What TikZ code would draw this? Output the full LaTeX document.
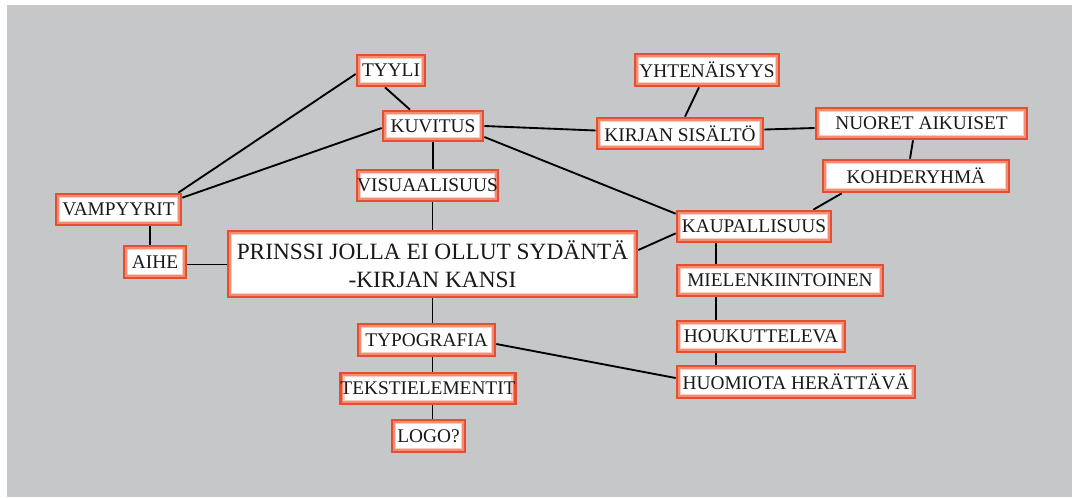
\documentclass[tikz,border=0pt]{standalone}
\usepackage{fontspec}
\setmainfont{Liberation Serif}
\usetikzlibrary{calc,backgrounds}
\definecolor{bggray}{RGB}{198,199,201}
\definecolor{bordred}{RGB}{230,78,48}
\definecolor{glowA}{RGB}{242,140,115}
\definecolor{glowB}{RGB}{251,205,193}
\tikzset{
  box/.style={rectangle, fill=white, draw=bordred, line width=2pt, inner sep=0pt,
    font=\fontsize{14.5}{17}\selectfont, text=black!90,
    path picture={
      \draw[glowB, line width=6.5pt] (path picture bounding box.south west) rectangle (path picture bounding box.north east);
      \draw[glowA, line width=4pt] (path picture bounding box.south west) rectangle (path picture bounding box.north east);
    }},
  bigbox/.style={box, font=\fontsize{17.5}{21}\selectfont, align=center},
  link/.style={line width=1.4pt, black}
}
\begin{document}
\begin{tikzpicture}[x=0.75pt, y=-0.75pt]
\useasboundingbox (0,0) rectangle (1072,497);
% nodes
\node[box, minimum width=68*0.75pt, minimum height=31*0.75pt] (tyyli) at (391,70.5) {TYYLI};
\node[box, minimum width=100*0.75pt, minimum height=30*0.75pt] (kuvitus) at (433,126) {KUVITUS};
\node[box, minimum width=139*0.75pt, minimum height=31*0.75pt] (visual) at (427.5,185.5) {VISUAALISUUS};
\node[box, minimum width=144*0.75pt, minimum height=32*0.75pt] (yht) at (707,70) {YHTENÄISYYS};
\node[box, minimum width=166*0.75pt, minimum height=31*0.75pt] (kirjan) at (680,133.5) {KIRJAN SISÄLTÖ};
\node[box, minimum width=211*0.75pt, minimum height=31*0.75pt] (nuoret) at (921.5,123.5) {NUORET AIKUISET};
\node[box, minimum width=186*0.75pt, minimum height=32*0.75pt] (kohde) at (916,176) {KOHDERYHMÄ};
\node[box, minimum width=125*0.75pt, minimum height=31*0.75pt] (vamp) at (118.5,209.5) {VAMPYYRIT};
\node[box, minimum width=62*0.75pt, minimum height=32*0.75pt] (aihe) at (155,262) {AIHE};
\node[bigbox, minimum width=409*0.75pt, minimum height=66*0.75pt] (main) at (432.5,264) {PRINSSI JOLLA EI OLLUT SYDÄNTÄ\\-KIRJAN KANSI};
\node[box, minimum width=154*0.75pt, minimum height=31*0.75pt] (kaup) at (754,226.5) {KAUPALLISUUS};
\node[box, minimum width=206*0.75pt, minimum height=31*0.75pt] (miel) at (780,280.5) {MIELENKIINTOINEN};
\node[box, minimum width=168*0.75pt, minimum height=31*0.75pt] (houk) at (761,336.5) {HOUKUTTELEVA};
\node[box, minimum width=238*0.75pt, minimum height=32*0.75pt] (huom) at (796,382) {HUOMIOTA HERÄTTÄVÄ};
\node[box, minimum width=137*0.75pt, minimum height=32*0.75pt] (typo) at (426.5,340) {TYPOGRAFIA};
\node[box, minimum width=174*0.75pt, minimum height=31*0.75pt] (teks) at (428,388.5) {TEKSTIELEMENTIT};
\node[box, minimum width=73*0.75pt, minimum height=32*0.75pt] (logo) at (428.5,436) {LOGO?};
\begin{scope}[on background layer]
\fill[white] (0,0) rectangle (1072,497);
\fill[bggray] (7,5) rectangle (1072,497);
\draw[link] ($(vamp.north east)+(-4,0)$) -- ($(tyyli.west)+(0,3.5)$);
\draw[link] ($(vamp.north east)+(0,5)$) -- ($(kuvitus.west)+(0,2)$);
\draw[link] ($(tyyli.south)+(-6,0)$) -- ($(kuvitus.north)+(-23,0)$);
\draw[link] (kuvitus.south) -- (kuvitus.south |- visual.north);
\draw[link] (main.north) -- (main.north |- visual.south);
\draw[link] (main.south) -- (main.south |- typo.north);
\draw[link] (main.south |- typo.south) -- (main.south |- teks.north);
\draw[link] (main.south |- teks.south) -- (main.south |- logo.north);
\draw[link] ($(typo.east)+(0,4)$) -- ($(huom.west)+(0,-4)$);
\draw[link] ($(aihe.east)+(0,2.5)$) -- ($(aihe.east -| main.west)+(0,2.5)$);
\draw[link] ($(aihe.north)+(-5,0)$) -- ($(aihe.north |- vamp.south)+(-5,0)$);
\draw[link] (kuvitus.east) -- ($(kirjan.west)+(0,-3)$);
\draw[link] ($(kuvitus.east)+(0,11)$) -- ($(kaup.north west)+(0,4)$);
\draw[link] ($(main.east)+(0,-14)$) -- ($(kaup.south west)+(0,-10)$);
\draw[link] ($(yht.south)+(-8,0)$) -- ($(kirjan.north)+(5,0)$);
\draw[link] ($(kirjan.east)+(0,-4)$) -- ($(nuoret.west)+(0,4.5)$);
\draw[link] ($(nuoret.south)+(-8.5,0)$) -- ($(kohde.north)+(-6,0)$);
\draw[link] ($(kohde.south west)+(20,0)$) -- ($(kaup.north east)+(-19,0)$);
\draw[link] ($(kaup.south west)+(40,0)$) -- ($(kaup.south west |- miel.north)+(40,0)$);
\draw[link] ($(miel.south west)+(40,0)$) -- ($(miel.south west |- houk.north)+(40,0)$);
\draw[link] ($(houk.south west)+(40,0)$) -- ($(houk.south west |- huom.north)+(40,0)$);
\end{scope}
\end{tikzpicture}
\end{document}
